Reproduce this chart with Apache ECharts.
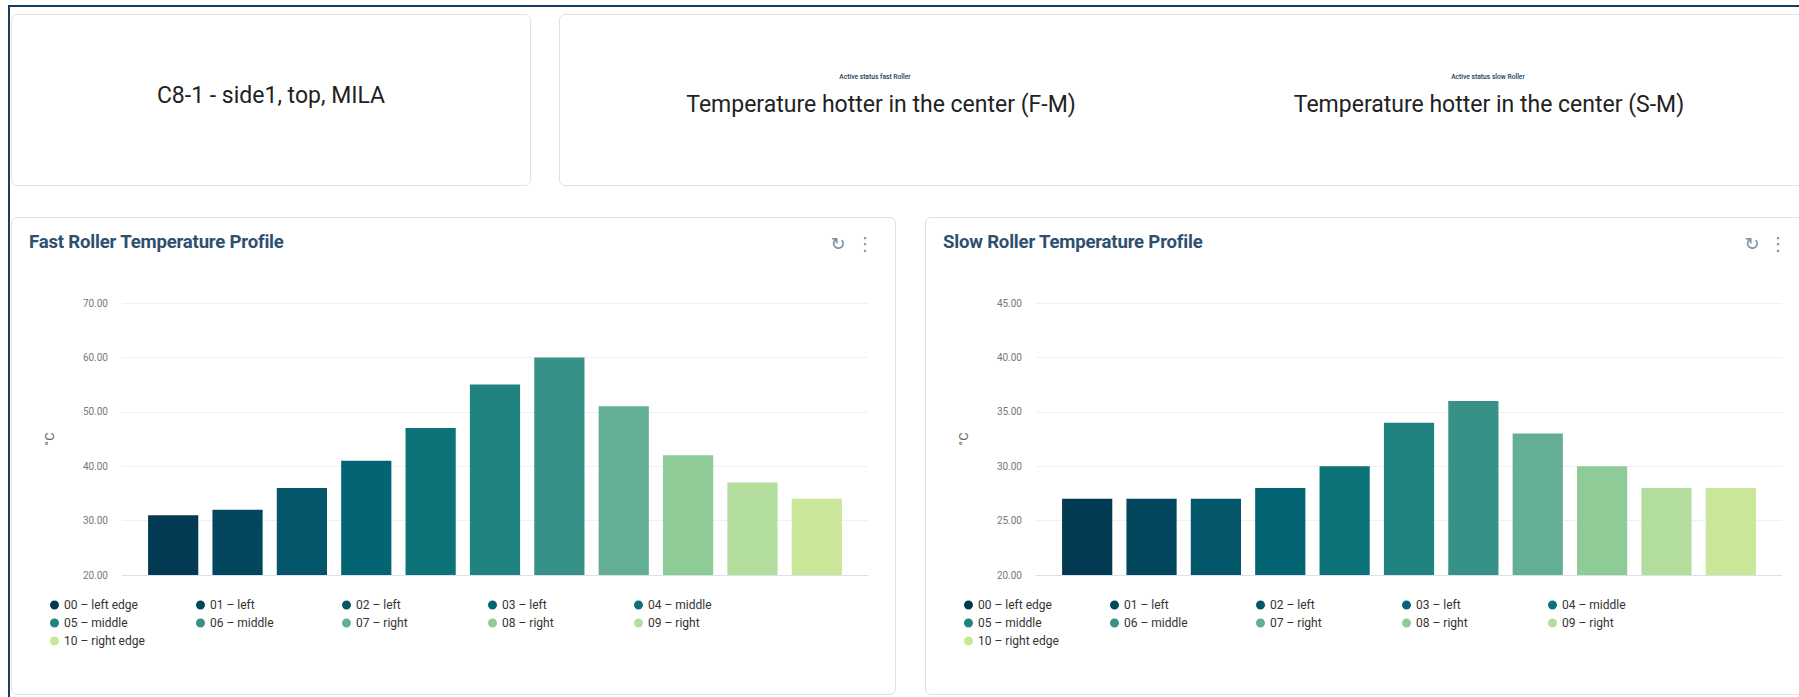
<!DOCTYPE html>
<html>
<head>
<meta charset="utf-8">
<script src="https://cdn.jsdelivr.net/npm/echarts/dist/echarts.min.js"></script>
<style>
html,body{margin:0;padding:0;width:1799px;height:697px;overflow:hidden;background:#fff;font-family:Roboto,"Noto Sans",sans-serif;}
.frame{position:absolute;left:8px;top:5px;width:1900px;height:800px;border-top:2px solid #173e5e;border-left:2px solid #173e5e;}
.card{position:absolute;border:1px solid #dde3e8;border-radius:6px;background:#fff;box-sizing:border-box;}
.ct{position:absolute;transform:translate(-50%,-50%);white-space:nowrap;}
.big{font-size:23px;color:#222;}
.tiny{font-size:6.7px;color:#173e5e;font-weight:500;}
.title{position:absolute;font-size:18.6px;font-weight:bold;color:#2e5070;line-height:20px;white-space:nowrap;letter-spacing:-0.2px;}
.icon{position:absolute;transform:translate(-50%,-50%);color:#7d8d9c;font-family:"DejaVu Sans",sans-serif;font-size:18px;}
.chart{position:absolute;}
</style>
</head>
<body>
<div class="frame"></div>
<div class="card" style="left:11px;top:14px;width:520px;height:172px;"></div>
<div class="card" style="left:559px;top:14px;width:1300px;height:172px;"></div>
<div class="card" style="left:11px;top:217px;width:885px;height:478px;"></div>
<div class="card" style="left:925px;top:217px;width:900px;height:478px;"></div>

<div class="ct big" style="left:271px;top:95px;">C8-1 - side1, top, MILA</div>
<div class="ct tiny" style="left:875px;top:77px;">Active status fast Roller</div>
<div class="ct big" style="left:881px;top:104px;">Temperature hotter in the center (F-M)</div>
<div class="ct tiny" style="left:1488px;top:77px;">Active status slow Roller</div>
<div class="ct big" style="left:1489px;top:104px;">Temperature hotter in the center (S-M)</div>

<div class="title" style="left:29px;top:232px;">Fast Roller Temperature Profile</div>
<div class="title" style="left:943px;top:232px;">Slow Roller Temperature Profile</div>
<div class="icon" style="left:838px;top:243px;">↻</div>
<div class="icon" style="left:865px;top:243px;">⋮</div>
<div class="icon" style="left:1752px;top:243px;">↻</div>
<div class="icon" style="left:1778px;top:243px;">⋮</div>

<div id="fast" class="chart" style="left:11px;top:217px;width:885px;height:478px;"></div>
<div id="slow" class="chart" style="left:925px;top:217px;width:874px;height:478px;"></div>

<script>
const categories = ['00 – left edge','01 – left','02 – left','03 – left','04 – middle','05 – middle','06 – middle','07 – right','08 – right','09 – right','10 – right edge'];
const fastValues = [31, 32, 36, 41, 47, 55, 60, 51, 42, 37, 34];
const slowValues = [27, 27, 27, 28, 30, 34, 36, 33, 30, 28, 28];
const fastTicks = [20, 30, 40, 50, 60, 70];
const slowTicks = [20, 25, 30, 35, 40, 45];
const palette = ['#013a52','#03475e','#04566a','#056473','#0e7378','#21837f','#379187','#62af93','#8fcb97','#b3de9e','#cae698'];
const unit = '°C';

function makeChart(id, values, ticks) {
  const chart = echarts.init(document.getElementById(id), null, {renderer: 'svg'});
  const yMin = ticks[0], yMax = ticks[ticks.length - 1], yInt = ticks[1] - ticks[0];
  const series = categories.map((name, i) => ({
    type: 'bar', name: name, xAxisIndex: 1, yAxisIndex: 1,
    data: values.map((v, j) => j === i ? v : '-'),
    barGap: '-100%', barCategoryGap: '22%', clip: true,
    itemStyle: {color: palette[i]},
    emphasis: {disabled: true}
  }));
  chart.setOption({
    animation: false,
    tooltip: {show: false},
    grid: [
      {left: 111, top: 86, width: 746, height: 272},
      {left: 130, top: 86, width: 708, height: 272}
    ],
    xAxis: [
      {gridIndex: 0, type: 'value', min: 0, max: 1,
       axisLine: {show: true, onZero: false, lineStyle: {color: '#dbe2ec', width: 1}},
       axisTick: {show: false}, axisLabel: {show: false}, splitLine: {show: false}},
      {gridIndex: 1, type: 'category', data: categories, show: false}
    ],
    yAxis: [
      {gridIndex: 0, type: 'value', min: yMin, max: yMax, interval: yInt,
       axisLabel: {formatter: v => v.toFixed(2), color: '#777', fontSize: 10, margin: 14, fontFamily: 'Roboto'},
       splitLine: {show: true, lineStyle: {color: '#eef1f4', width: 1}},
       axisLine: {show: false}, axisTick: {show: false},
       name: unit, nameLocation: 'middle', nameGap: 66, nameRotate: 90,
       nameTextStyle: {color: '#666', fontSize: 13, fontFamily: 'Roboto'}},
      {gridIndex: 1, type: 'value', min: yMin, max: yMax, interval: yInt, show: false, splitLine: {show: false}}
    ],
    legend: {
      data: categories, left: 39, top: 381, width: 740, orient: 'horizontal',
      itemGap: 4, itemWidth: 9, itemHeight: 13, padding: 0,
      icon: 'path://M50,0A50,50 0 1,1 50,100A50,50 0 1,1 50,0Z',
      selectedMode: false,
      textStyle: {color: '#333', fontSize: 12, width: 128, lineHeight: 14, fontFamily: 'Roboto'}
    },
    series: series
  });
}
makeChart('fast', fastValues, fastTicks);
makeChart('slow', slowValues, slowTicks);
</script>
</body>
</html>
